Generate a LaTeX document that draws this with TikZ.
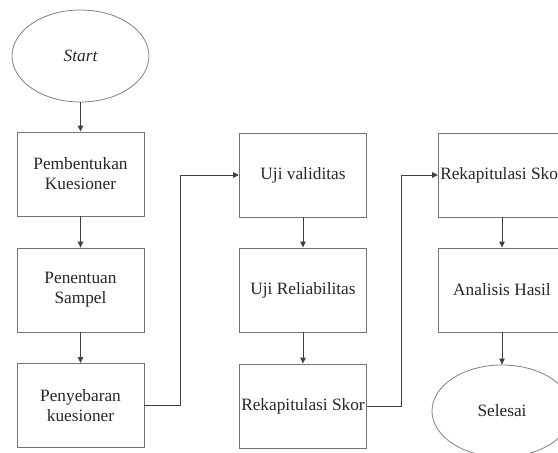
\documentclass[tikz,border=0pt]{standalone}
\usepackage{fontspec}
\setmainfont{Liberation Serif}
\usetikzlibrary{arrows.meta,shapes.geometric}
\begin{document}
\begin{tikzpicture}[x=1pt,y=-1pt,
  stepbox/.style={draw=black!55,line width=0.9pt,minimum width=127pt,minimum height=84pt,inner sep=0pt,align=center,text=black!85,font=\fontsize{17.3}{20}\selectfont},
  term/.style={draw=black!50,line width=0.8pt,ellipse,minimum width=137pt,minimum height=92pt,inner sep=0pt,text=black!85,font=\fontsize{17.3}{20}\selectfont},
  conn/.style={draw=black!75,line width=0.9pt,-{Triangle[length=6pt,width=5.5pt]}}]
\useasboundingbox (0,0) rectangle (558,453);
\node[term] (start) at (80.5,56) {\itshape Start};
\node[stepbox] (b1) at (80.5,174) {Pembentukan\\Kuesioner};
\node[stepbox] (b2) at (80.5,290) {Penentuan\\Sampel};
\node[stepbox] (b3) at (80.5,405.5) {Penyebaran\\kuesioner};
\node[stepbox] (b4) at (303,175) {Uji validitas};
\node[stepbox] (b5) at (303,290) {Uji Reliabilitas};
\node[stepbox] (b6) at (303,406) {Rekapitulasi Skor};
\node[stepbox] (b7) at (502,175) {Rekapitulasi Skor};
\node[stepbox] (b8) at (502,290) {Analisis Hasil};
\node[term,minimum width=140pt] (end) at (502,411) {Selesai};
\draw[conn] (start) -- (b1);
\draw[conn] (b1) -- (b2);
\draw[conn] (b2) -- (b3);
\draw[conn] (b3.east) -- (180,405.5) |- (b4.west);
\draw[conn] (b4) -- (b5);
\draw[conn] (b5) -- (b6);
\draw[conn] (b6.east) -- (401,406) |- (b7.west);
\draw[conn] (b7) -- (b8);
\draw[conn] (b8) -- (end);
\end{tikzpicture}
\end{document}
